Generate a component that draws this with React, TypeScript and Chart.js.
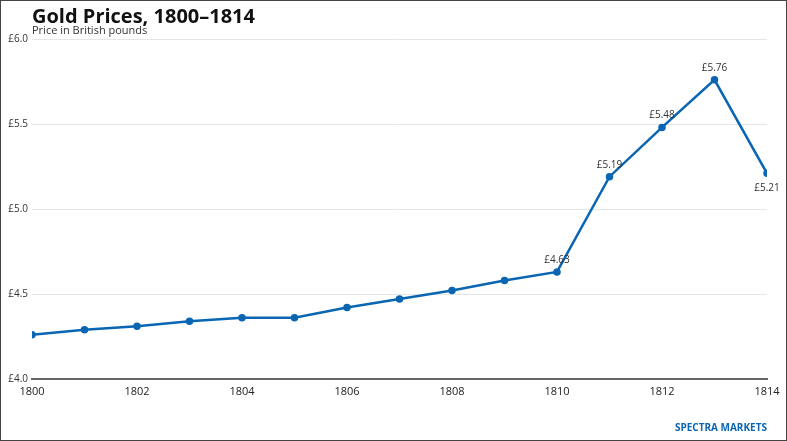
import { useEffect, useRef } from 'react';
import { Chart, registerables, Plugin } from 'chart.js';

Chart.register(...registerables);

const years = [1800, 1801, 1802, 1803, 1804, 1805, 1806, 1807, 1808, 1809, 1810, 1811, 1812, 1813, 1814];
const prices = [4.26, 4.29, 4.31, 4.34, 4.36, 4.36, 4.42, 4.47, 4.52, 4.58, 4.63, 5.19, 5.48, 5.76, 5.21];
const labelledYears = [1810, 1811, 1812, 1813, 1814];
const labelsBelow = [1814];

const FONT = "'Open Sans', 'Noto Sans', sans-serif";
const BLUE = '#0a66b2';

// title, subtitle and source line drawn straight on the canvas
const textPlugin: Plugin<'line'> = {
  id: 'texts',
  afterDraw(chart) {
    const ctx = chart.ctx;
    ctx.save();
    ctx.textBaseline = 'alphabetic';
    ctx.textAlign = 'left';
    ctx.fillStyle = '#111';
    ctx.font = `bold 20px ${FONT}`;
    ctx.fillText('Gold Prices, 1800–1814', 31, 22);
    ctx.fillStyle = '#333';
    ctx.font = `11px ${FONT}`;
    ctx.fillText('Price in British pounds', 31, 33);
    ctx.textAlign = 'right';
    ctx.fillStyle = BLUE;
    ctx.font = `bold 10px ${FONT}`;
    ctx.fillText('SPECTRA MARKETS', chart.chartArea.right, 430);
    ctx.restore();
  },
};

const valueLabels: Plugin<'line'> = {
  id: 'valueLabels',
  afterDatasetsDraw(chart) {
    const ctx = chart.ctx;
    const meta = chart.getDatasetMeta(0);
    ctx.save();
    ctx.font = `10px ${FONT}`;
    ctx.fillStyle = '#333';
    ctx.textAlign = 'center';
    ctx.textBaseline = 'middle';
    years.forEach((yr, i) => {
      if (!labelledYears.includes(yr)) return;
      const pt = meta.data[i];
      const below = labelsBelow.includes(yr);
      ctx.fillText('£' + prices[i].toFixed(2), pt.x, pt.y + (below ? 15 : -12));
    });
    ctx.restore();
  },
};

export default function App() {
  const canvasRef = useRef<HTMLCanvasElement>(null);
  const chartRef = useRef<Chart<'line'> | null>(null);

  useEffect(() => {
    document.body.style.margin = '0';
    if (!canvasRef.current) return;
    if (chartRef.current) chartRef.current.destroy();

    chartRef.current = new Chart(canvasRef.current, {
      type: 'line',
      data: {
        datasets: [
          {
            label: 'Gold price',
            data: years.map((x, i) => ({ x, y: prices[i] })),
            borderColor: BLUE,
            backgroundColor: BLUE,
            borderWidth: 2.5,
            pointRadius: 2.5,
            pointHoverRadius: 2.5,
            tension: 0,
            clip: 0,
          },
        ],
      },
      options: {
        responsive: true,
        maintainAspectRatio: false,
        animation: false,
        layout: { padding: { top: 38, right: 19, bottom: 31, left: 0 } },
        scales: {
          x: {
            type: 'linear',
            min: 1800,
            max: 1814,
            grid: { display: false, drawTicks: false },
            border: { display: true, color: '#666', width: 2 },
            ticks: {
              stepSize: 2,
              padding: 6,
              color: '#222',
              font: { family: FONT, size: 11 },
              callback: (v) => String(v),
            },
            afterFit: (scale) => {
              scale.height = 30;
            },
          },
          y: {
            min: 4,
            max: 6,
            grid: { color: '#e6e6e6', lineWidth: 1, drawTicks: false },
            border: { display: false },
            ticks: {
              stepSize: 0.5,
              padding: 4,
              color: '#333',
              font: { family: FONT, size: 10 },
              callback: (v) => '£' + Number(v).toFixed(1),
            },
            afterFit: (scale) => {
              scale.width = 31;
            },
          },
        },
        plugins: {
          legend: { display: false },
          tooltip: { enabled: false },
        },
      },
      plugins: [valueLabels, textPlugin],
    });

    return () => {
      if (chartRef.current) {
        chartRef.current.destroy();
        chartRef.current = null;
      }
    };
  }, []);

  return (
    <div
      style={{
        position: 'relative',
        width: 787,
        height: 441,
        boxSizing: 'border-box',
        border: '1px solid #444',
        background: '#fff',
      }}
    >
      <canvas ref={canvasRef}></canvas>
    </div>
  );
}
